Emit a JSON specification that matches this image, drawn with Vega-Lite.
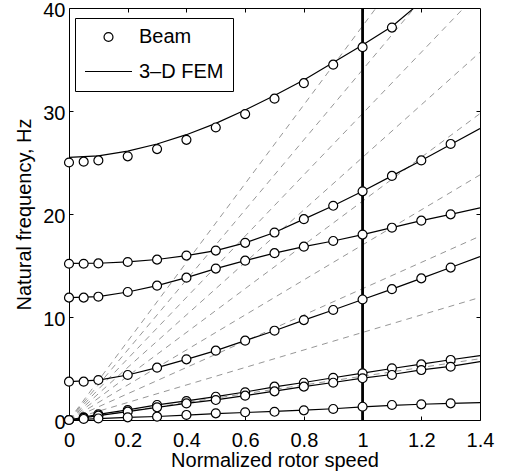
{
  "$schema": "https://vega.github.io/schema/vega-lite/v6.json",
  "autosize": {"type": "none"},
  "padding": {"left": 69, "top": 8, "right": 30, "bottom": 53},
  "width": 411,
  "height": 412,
  "background": "white",
  "config": {
    "view": {"stroke": "black", "strokeWidth": 1},
    "font": "Liberation Sans"
  },
  "datasets": {
    "beam": [
      {"m": "M1", "x": 0, "f": 25.0, "src": "Beam"}, {"m": "M1", "x": 0.05, "f": 25.08, "src": "Beam"}, {"m": "M1", "x": 0.1, "f": 25.2, "src": "Beam"}, {"m": "M1", "x": 0.2, "f": 25.6, "src": "Beam"}, {"m": "M1", "x": 0.3, "f": 26.3, "src": "Beam"}, {"m": "M1", "x": 0.4, "f": 27.2, "src": "Beam"}, {"m": "M1", "x": 0.5, "f": 28.4, "src": "Beam"}, {"m": "M1", "x": 0.6, "f": 29.7, "src": "Beam"}, {"m": "M1", "x": 0.7, "f": 31.2, "src": "Beam"}, {"m": "M1", "x": 0.8, "f": 32.7, "src": "Beam"}, {"m": "M1", "x": 0.9, "f": 34.5, "src": "Beam"}, {"m": "M1", "x": 1.0, "f": 36.2, "src": "Beam"}, {"m": "M1", "x": 1.1, "f": 38.1, "src": "Beam"},
      {"m": "M2", "x": 0, "f": 15.17, "src": "Beam"}, {"m": "M2", "x": 0.05, "f": 15.17, "src": "Beam"}, {"m": "M2", "x": 0.1, "f": 15.2, "src": "Beam"}, {"m": "M2", "x": 0.2, "f": 15.34, "src": "Beam"}, {"m": "M2", "x": 0.3, "f": 15.57, "src": "Beam"}, {"m": "M2", "x": 0.4, "f": 15.96, "src": "Beam"}, {"m": "M2", "x": 0.5, "f": 16.45, "src": "Beam"}, {"m": "M2", "x": 0.6, "f": 17.2, "src": "Beam"}, {"m": "M2", "x": 0.7, "f": 18.2, "src": "Beam"}, {"m": "M2", "x": 0.8, "f": 19.5, "src": "Beam"}, {"m": "M2", "x": 0.9, "f": 20.8, "src": "Beam"}, {"m": "M2", "x": 1.0, "f": 22.2, "src": "Beam"}, {"m": "M2", "x": 1.1, "f": 23.7, "src": "Beam"}, {"m": "M2", "x": 1.2, "f": 25.2, "src": "Beam"}, {"m": "M2", "x": 1.3, "f": 26.8, "src": "Beam"},
      {"m": "M3", "x": 0, "f": 11.88, "src": "Beam"}, {"m": "M3", "x": 0.05, "f": 11.88, "src": "Beam"}, {"m": "M3", "x": 0.1, "f": 11.97, "src": "Beam"}, {"m": "M3", "x": 0.2, "f": 12.43, "src": "Beam"}, {"m": "M3", "x": 0.3, "f": 13.04, "src": "Beam"}, {"m": "M3", "x": 0.4, "f": 13.82, "src": "Beam"}, {"m": "M3", "x": 0.5, "f": 14.7, "src": "Beam"}, {"m": "M3", "x": 0.6, "f": 15.47, "src": "Beam"}, {"m": "M3", "x": 0.7, "f": 16.2, "src": "Beam"}, {"m": "M3", "x": 0.8, "f": 16.83, "src": "Beam"}, {"m": "M3", "x": 0.9, "f": 17.38, "src": "Beam"}, {"m": "M3", "x": 1.0, "f": 18.0, "src": "Beam"}, {"m": "M3", "x": 1.1, "f": 18.67, "src": "Beam"}, {"m": "M3", "x": 1.2, "f": 19.35, "src": "Beam"}, {"m": "M3", "x": 1.3, "f": 19.97, "src": "Beam"},
      {"m": "M4", "x": 0, "f": 3.72, "src": "Beam"}, {"m": "M4", "x": 0.05, "f": 3.72, "src": "Beam"}, {"m": "M4", "x": 0.1, "f": 3.88, "src": "Beam"}, {"m": "M4", "x": 0.2, "f": 4.37, "src": "Beam"}, {"m": "M4", "x": 0.3, "f": 5.08, "src": "Beam"}, {"m": "M4", "x": 0.4, "f": 5.89, "src": "Beam"}, {"m": "M4", "x": 0.5, "f": 6.73, "src": "Beam"}, {"m": "M4", "x": 0.6, "f": 7.7, "src": "Beam"}, {"m": "M4", "x": 0.7, "f": 8.67, "src": "Beam"}, {"m": "M4", "x": 0.8, "f": 9.7, "src": "Beam"}, {"m": "M4", "x": 0.9, "f": 10.68, "src": "Beam"}, {"m": "M4", "x": 1.0, "f": 11.7, "src": "Beam"}, {"m": "M4", "x": 1.1, "f": 12.7, "src": "Beam"}, {"m": "M4", "x": 1.2, "f": 13.75, "src": "Beam"}, {"m": "M4", "x": 1.3, "f": 14.8, "src": "Beam"},
      {"m": "A", "x": 0, "f": 0, "src": "Beam"}, {"m": "A", "x": 0.05, "f": 0.25, "src": "Beam"}, {"m": "A", "x": 0.1, "f": 0.55, "src": "Beam"}, {"m": "A", "x": 0.2, "f": 0.97, "src": "Beam"}, {"m": "A", "x": 0.3, "f": 1.46, "src": "Beam"}, {"m": "A", "x": 0.4, "f": 1.84, "src": "Beam"}, {"m": "A", "x": 0.5, "f": 2.26, "src": "Beam"}, {"m": "A", "x": 0.6, "f": 2.69, "src": "Beam"}, {"m": "A", "x": 0.7, "f": 3.24, "src": "Beam"}, {"m": "A", "x": 0.8, "f": 3.62, "src": "Beam"}, {"m": "A", "x": 0.9, "f": 4.1, "src": "Beam"}, {"m": "A", "x": 1.0, "f": 4.53, "src": "Beam"}, {"m": "A", "x": 1.1, "f": 5.02, "src": "Beam"}, {"m": "A", "x": 1.2, "f": 5.4, "src": "Beam"}, {"m": "A", "x": 1.3, "f": 5.83, "src": "Beam"},
      {"m": "B", "x": 0, "f": 0, "src": "Beam"}, {"m": "B", "x": 0.05, "f": 0.2, "src": "Beam"}, {"m": "B", "x": 0.1, "f": 0.42, "src": "Beam"}, {"m": "B", "x": 0.2, "f": 0.81, "src": "Beam"}, {"m": "B", "x": 0.3, "f": 1.23, "src": "Beam"}, {"m": "B", "x": 0.4, "f": 1.61, "src": "Beam"}, {"m": "B", "x": 0.5, "f": 1.94, "src": "Beam"}, {"m": "B", "x": 0.6, "f": 2.36, "src": "Beam"}, {"m": "B", "x": 0.7, "f": 2.78, "src": "Beam"}, {"m": "B", "x": 0.8, "f": 3.24, "src": "Beam"}, {"m": "B", "x": 0.9, "f": 3.62, "src": "Beam"}, {"m": "B", "x": 1.0, "f": 4.05, "src": "Beam"}, {"m": "B", "x": 1.1, "f": 4.37, "src": "Beam"}, {"m": "B", "x": 1.2, "f": 4.85, "src": "Beam"}, {"m": "B", "x": 1.3, "f": 5.17, "src": "Beam"},
      {"m": "L", "x": 0, "f": 0, "src": "Beam"}, {"m": "L", "x": 0.05, "f": 0.1, "src": "Beam"}, {"m": "L", "x": 0.1, "f": 0.15, "src": "Beam"}, {"m": "L", "x": 0.2, "f": 0.26, "src": "Beam"}, {"m": "L", "x": 0.3, "f": 0.32, "src": "Beam"}, {"m": "L", "x": 0.4, "f": 0.49, "src": "Beam"}, {"m": "L", "x": 0.5, "f": 0.65, "src": "Beam"}, {"m": "L", "x": 0.6, "f": 0.75, "src": "Beam"}, {"m": "L", "x": 0.7, "f": 0.8, "src": "Beam"}, {"m": "L", "x": 0.8, "f": 0.94, "src": "Beam"}, {"m": "L", "x": 0.9, "f": 1.07, "src": "Beam"}, {"m": "L", "x": 1.0, "f": 1.29, "src": "Beam"}, {"m": "L", "x": 1.1, "f": 1.46, "src": "Beam"}, {"m": "L", "x": 1.2, "f": 1.52, "src": "Beam"}, {"m": "L", "x": 1.3, "f": 1.62, "src": "Beam"}
    ],
    "fem": [
      {"m": "M1", "x": 0, "f": 25.5}, {"m": "M1", "x": 0.1, "f": 25.65}, {"m": "M1", "x": 0.2, "f": 26.1}, {"m": "M1", "x": 0.3, "f": 26.8}, {"m": "M1", "x": 0.4, "f": 27.7}, {"m": "M1", "x": 0.5, "f": 28.8}, {"m": "M1", "x": 0.6, "f": 30.1}, {"m": "M1", "x": 0.7, "f": 31.5}, {"m": "M1", "x": 0.8, "f": 33.0}, {"m": "M1", "x": 0.9, "f": 34.7}, {"m": "M1", "x": 1.0, "f": 36.4}, {"m": "M1", "x": 1.1, "f": 38.2}, {"m": "M1", "x": 1.2, "f": 40.6},
      {"m": "M2", "x": 0, "f": 15.2}, {"m": "M2", "x": 0.1, "f": 15.22}, {"m": "M2", "x": 0.2, "f": 15.35}, {"m": "M2", "x": 0.3, "f": 15.58}, {"m": "M2", "x": 0.4, "f": 15.95}, {"m": "M2", "x": 0.5, "f": 16.45}, {"m": "M2", "x": 0.6, "f": 17.2}, {"m": "M2", "x": 0.7, "f": 18.2}, {"m": "M2", "x": 0.8, "f": 19.5}, {"m": "M2", "x": 0.9, "f": 20.8}, {"m": "M2", "x": 1.0, "f": 22.2}, {"m": "M2", "x": 1.1, "f": 23.7}, {"m": "M2", "x": 1.2, "f": 25.2}, {"m": "M2", "x": 1.3, "f": 26.75}, {"m": "M2", "x": 1.4, "f": 28.3},
      {"m": "M3", "x": 0, "f": 11.88}, {"m": "M3", "x": 0.1, "f": 11.97}, {"m": "M3", "x": 0.2, "f": 12.43}, {"m": "M3", "x": 0.3, "f": 13.04}, {"m": "M3", "x": 0.4, "f": 13.82}, {"m": "M3", "x": 0.5, "f": 14.7}, {"m": "M3", "x": 0.6, "f": 15.47}, {"m": "M3", "x": 0.7, "f": 16.2}, {"m": "M3", "x": 0.8, "f": 16.83}, {"m": "M3", "x": 0.9, "f": 17.38}, {"m": "M3", "x": 1.0, "f": 18.0}, {"m": "M3", "x": 1.1, "f": 18.67}, {"m": "M3", "x": 1.2, "f": 19.35}, {"m": "M3", "x": 1.3, "f": 19.97}, {"m": "M3", "x": 1.4, "f": 20.6},
      {"m": "M4", "x": 0, "f": 3.72}, {"m": "M4", "x": 0.1, "f": 3.88}, {"m": "M4", "x": 0.2, "f": 4.37}, {"m": "M4", "x": 0.3, "f": 5.08}, {"m": "M4", "x": 0.4, "f": 5.89}, {"m": "M4", "x": 0.5, "f": 6.73}, {"m": "M4", "x": 0.6, "f": 7.7}, {"m": "M4", "x": 0.7, "f": 8.67}, {"m": "M4", "x": 0.8, "f": 9.7}, {"m": "M4", "x": 0.9, "f": 10.68}, {"m": "M4", "x": 1.0, "f": 11.7}, {"m": "M4", "x": 1.1, "f": 12.7}, {"m": "M4", "x": 1.2, "f": 13.75}, {"m": "M4", "x": 1.3, "f": 14.8}, {"m": "M4", "x": 1.4, "f": 15.86},
      {"m": "A", "x": 0, "f": 0}, {"m": "A", "x": 0.1, "f": 0.55}, {"m": "A", "x": 0.2, "f": 0.98}, {"m": "A", "x": 0.3, "f": 1.46}, {"m": "A", "x": 0.4, "f": 1.85}, {"m": "A", "x": 0.5, "f": 2.27}, {"m": "A", "x": 0.6, "f": 2.72}, {"m": "A", "x": 0.7, "f": 3.22}, {"m": "A", "x": 0.8, "f": 3.64}, {"m": "A", "x": 0.9, "f": 4.1}, {"m": "A", "x": 1.0, "f": 4.55}, {"m": "A", "x": 1.1, "f": 5.0}, {"m": "A", "x": 1.2, "f": 5.42}, {"m": "A", "x": 1.3, "f": 5.85}, {"m": "A", "x": 1.4, "f": 6.25},
      {"m": "B", "x": 0, "f": 0}, {"m": "B", "x": 0.1, "f": 0.42}, {"m": "B", "x": 0.2, "f": 0.82}, {"m": "B", "x": 0.3, "f": 1.23}, {"m": "B", "x": 0.4, "f": 1.62}, {"m": "B", "x": 0.5, "f": 1.96}, {"m": "B", "x": 0.6, "f": 2.37}, {"m": "B", "x": 0.7, "f": 2.8}, {"m": "B", "x": 0.8, "f": 3.24}, {"m": "B", "x": 0.9, "f": 3.64}, {"m": "B", "x": 1.0, "f": 4.06}, {"m": "B", "x": 1.1, "f": 4.42}, {"m": "B", "x": 1.2, "f": 4.86}, {"m": "B", "x": 1.3, "f": 5.2}, {"m": "B", "x": 1.4, "f": 5.66},
      {"m": "L", "x": 0, "f": 0}, {"m": "L", "x": 0.1, "f": 0.13}, {"m": "L", "x": 0.2, "f": 0.25}, {"m": "L", "x": 0.3, "f": 0.34}, {"m": "L", "x": 0.4, "f": 0.48}, {"m": "L", "x": 0.5, "f": 0.62}, {"m": "L", "x": 0.6, "f": 0.73}, {"m": "L", "x": 0.7, "f": 0.83}, {"m": "L", "x": 0.8, "f": 0.95}, {"m": "L", "x": 0.9, "f": 1.09}, {"m": "L", "x": 1.0, "f": 1.27}, {"m": "L", "x": 1.1, "f": 1.42}, {"m": "L", "x": 1.2, "f": 1.53}, {"m": "L", "x": 1.3, "f": 1.62}, {"m": "L", "x": 1.4, "f": 1.68}
    ],
    "orders": [
      {"k": 1, "x": 0, "f": 0}, {"k": 1, "x": 1.4, "f": 5.95},
      {"k": 2, "x": 0, "f": 0}, {"k": 2, "x": 1.4, "f": 11.9},
      {"k": 3, "x": 0, "f": 0}, {"k": 3, "x": 1.4, "f": 17.85},
      {"k": 4, "x": 0, "f": 0}, {"k": 4, "x": 1.4, "f": 23.8},
      {"k": 5, "x": 0, "f": 0}, {"k": 5, "x": 1.4, "f": 29.75},
      {"k": 6, "x": 0, "f": 0}, {"k": 6, "x": 1.4, "f": 35.7},
      {"k": 7, "x": 0, "f": 0}, {"k": 7, "x": 1.4, "f": 41.65},
      {"k": 8, "x": 0, "f": 0}, {"k": 8, "x": 1.4, "f": 47.6},
      {"k": 9, "x": 0, "f": 0}, {"k": 9, "x": 1.4, "f": 53.55}
    ],
    "nominal": [{"x": 1}]
  },
  "layer": [
    {
      "data": {"name": "orders"},
      "mark": {"type": "line", "clip": true, "stroke": "#8a8a8a", "strokeWidth": 0.9, "strokeDash": [6, 5]},
      "encoding": {
        "x": {"field": "x", "type": "quantitative", "scale": {"domain": [0, 1.4], "nice": false, "zero": false},
          "axis": {"orient": "top", "values": [0.2, 0.4, 0.6, 0.8, 1, 1.2], "labels": false, "title": null, "domain": false, "grid": false, "tickSize": -4, "tickColor": "black", "tickWidth": 1}},
        "y": {"field": "f", "type": "quantitative", "scale": {"domain": [0, 40], "nice": false, "zero": false},
          "axis": {"orient": "right", "values": [10, 20, 30], "labels": false, "title": null, "domain": false, "grid": false, "tickSize": -4, "tickColor": "black", "tickWidth": 1}},
        "detail": {"field": "k", "type": "nominal"}
      }
    },
    {
      "data": {"name": "fem"},
      "mark": {"type": "line", "clip": true, "stroke": "black", "strokeWidth": 1.2},
      "encoding": {
        "x": {"field": "x", "type": "quantitative",
          "axis": {"orient": "bottom", "values": [0, 0.2, 0.4, 0.6, 0.8, 1, 1.2, 1.4], "format": "~g", "title": "Normalized rotor speed", "domain": false, "grid": false, "tickSize": -4, "tickColor": "black", "tickWidth": 1, "labelPadding": 14.5, "labelFont": "Liberation Sans", "labelFontSize": 20, "labelColor": "black", "labelFlush": false, "labelOverlap": false, "titleFont": "Liberation Sans", "titleFontSize": 20, "titleFontWeight": "normal", "titleColor": "black", "titlePadding": 0}},
        "y": {"field": "f", "type": "quantitative",
          "axis": {"orient": "left", "values": [0, 10, 20, 30, 40], "format": "d", "title": "Natural frequency, Hz", "domain": false, "grid": false, "tickSize": -4, "tickColor": "black", "tickWidth": 1, "labelPadding": 8, "labelOffset": 2.5, "labelFont": "Liberation Sans", "labelFontSize": 20, "labelColor": "black", "labelFlush": false, "labelOverlap": false, "titleFont": "Liberation Sans", "titleFontSize": 20, "titleFontWeight": "normal", "titleColor": "black", "titlePadding": 8}},
        "detail": {"field": "m", "type": "nominal"}
      }
    },
    {
      "data": {"name": "nominal"},
      "mark": {"type": "rule", "stroke": "black", "strokeWidth": 2.8},
      "encoding": {
        "x": {"field": "x", "type": "quantitative", "axis": null}
      }
    },
    {
      "data": {"name": "beam"},
      "mark": {"type": "point", "filled": true, "fill": "white", "stroke": "black", "strokeWidth": 1.2, "opacity": 1},
      "encoding": {
        "x": {"field": "x", "type": "quantitative", "axis": null},
        "y": {"field": "f", "type": "quantitative", "axis": null},
        "shape": {"field": "src", "type": "nominal",
          "scale": {"domain": ["Beam", "3–D FEM"], "range": ["circle", "stroke"]},
          "legend": {"title": null, "orient": "none", "legendX": 6, "legendY": 10, "strokeColor": "black", "fillColor": "white", "padding": 9, "labelFont": "Liberation Sans", "labelFontSize": 20, "labelColor": "black", "labelLimit": 300, "labelOffset": 6, "symbolStrokeWidth": 1.2, "rowPadding": -1, "cornerRadius": 0}},
        "size": {"field": "src", "type": "nominal",
          "scale": {"domain": ["Beam", "3–D FEM"], "range": [80, 2209]},
          "legend": {"title": null, "orient": "none", "legendX": 6, "legendY": 10, "strokeColor": "black", "fillColor": "white", "padding": 9, "labelFont": "Liberation Sans", "labelFontSize": 20, "labelColor": "black", "labelLimit": 300, "labelOffset": 6, "symbolStrokeWidth": 1.2, "rowPadding": -1, "cornerRadius": 0}}
      }
    }
  ]
}
